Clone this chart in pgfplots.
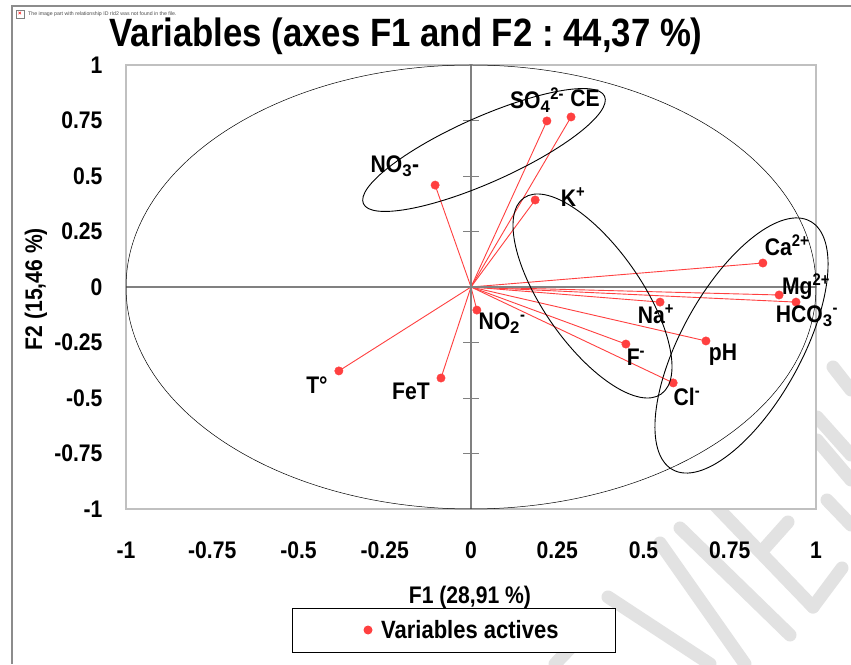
\documentclass[border=0pt]{standalone}
\usepackage{fontspec}
\setmainfont{Liberation Sans}
\usepackage{pgfplots}
\pgfplotsset{compat=1.18}
\definecolor{redv}{RGB}{255,64,64}
\definecolor{wm}{RGB}{226,226,226}
\definecolor{boxc}{RGB}{192,192,192}
\newfontfamily\nb[FakeStretch=0.88]{Liberation Sans}
\pgfplotstableread{
x y
0.22 0.748
0.29 0.766
-0.104 0.459
0.186 0.392
0.846 0.108
0.893 -0.036
0.942 -0.068
0.548 -0.068
0.681 -0.243
0.449 -0.257
0.586 -0.432
0.017 -0.104
-0.087 -0.41
-0.383 -0.378
}\pts
\begin{document}
\frenchspacing
\begin{tikzpicture}[x=1pt,y=1pt]
\fill[white] (0,0) rectangle (851,664);
\begin{scope}
\clip (0,0) rectangle (851,664);
\foreach \a/\b/\c/\d in {680/136/790/29, 710/164/813/57, 813/57/842/96, 788/142/763/114, 660/121/745/0, 608/67/710/0, 602/49/555/0, 827/164/851/139, 833/297/851/274, 817/247/851/209, 817/224/851/184}{
  \draw[wm,line width=13pt,line cap=round] (\a,\b) -- (\c,\d);}
\draw[gray!90,line width=2pt] (12,658) -- (12,0);
\draw[gray!90,line width=2pt] (11,658) -- (851,658);
\end{scope}
\draw[gray,line width=.4pt,fill=white] (16,646) rectangle (24,654);
\node[red,font=\fontsize{6}{6}\selectfont\bfseries,inner sep=0] at (20,650) {×};
\node[anchor=west,gray!60!black,font=\fontsize{5.2}{6}\selectfont,inner sep=0] at (28,650) {The image part with relationship ID rId2 was not found in the file.};
\begin{axis}[
  at={(126pt,155pt)},anchor=south west,scale only axis,
  width=690pt,height=444pt,
  xmin=-1,xmax=1,ymin=-1,ymax=1,
  axis background/.style={fill=white},
  axis line style={draw=boxc,line width=1.2pt},
  xtick={-1,-0.75,-0.5,-0.25,0,0.25,0.5,0.75,1},ytick={-1,-0.75,-0.5,-0.25,0,0.25,0.5,0.75,1},
  xticklabels={-1,-0.75,-0.5,-0.25,0,0.25,0.5,0.75,1},
  yticklabels={-1,-0.75,-0.5,-0.25,0,0.25,0.5,0.75,1},
  /pgf/number format/assume math mode=true,
  tick style={draw=none},
  ticklabel style={font=\fontsize{24}{24}\selectfont\nb\bfseries},
  xticklabel style={yshift=-29pt},
  yticklabel style={xshift=-20pt},
  clip=false,
]
\addplot[redv,line width=.9pt,forget plot] coordinates {(0,0) (0.22,0.748)};
\addplot[redv,line width=.9pt,forget plot] coordinates {(0,0) (0.29,0.766)};
\addplot[redv,line width=.9pt,forget plot] coordinates {(0,0) (-0.104,0.459)};
\addplot[redv,line width=.9pt,forget plot] coordinates {(0,0) (0.186,0.392)};
\addplot[redv,line width=.9pt,forget plot] coordinates {(0,0) (0.846,0.108)};
\addplot[redv,line width=.9pt,forget plot] coordinates {(0,0) (0.893,-0.036)};
\addplot[redv,line width=.9pt,forget plot] coordinates {(0,0) (0.942,-0.068)};
\addplot[redv,line width=.9pt,forget plot] coordinates {(0,0) (0.548,-0.068)};
\addplot[redv,line width=.9pt,forget plot] coordinates {(0,0) (0.681,-0.243)};
\addplot[redv,line width=.9pt,forget plot] coordinates {(0,0) (0.449,-0.257)};
\addplot[redv,line width=.9pt,forget plot] coordinates {(0,0) (0.586,-0.432)};
\addplot[redv,line width=.9pt,forget plot] coordinates {(0,0) (0.017,-0.104)};
\addplot[redv,line width=.9pt,forget plot] coordinates {(0,0) (-0.087,-0.41)};
\addplot[redv,line width=.9pt,forget plot] coordinates {(0,0) (-0.383,-0.378)};
\addplot[only marks,mark=*,mark size=4.2pt,mark options={fill=redv,draw=redv}] table {\pts};
\end{axis}
\draw[boxc,line width=1.6pt] (126,155) rectangle (816,599);
% centre axes and their ticks
\draw[gray,line width=1.5pt] (126,377) -- (816,377);
\draw[gray,line width=1.5pt] (471,155) -- (471,599);
\foreach \v in {-3,-2,-1,1,2,3}{
  \draw[gray,line width=.8pt] ({471-8},{377+55.5*\v}) -- ({471+8},{377+55.5*\v});
}
\draw[black,line width=.5pt] (471,377) ellipse [x radius=345pt,y radius=222pt];
% ellipses
\draw[black,line width=.9pt,rotate around={24:(484,514)}] (484,514) ellipse [x radius=132pt,y radius=32.7pt];
\draw[black,line width=.9pt,rotate around={-55:(592.5,368)}] (592.5,368) ellipse [x radius=119.7pt,y radius=48.9pt];
\draw[black,line width=.9pt,rotate around={61:(741.5,318.5)}] (741.5,318.5) ellipse [x radius=142pt,y radius=60pt];
% labels
\tikzset{lb/.style={font=\fontsize{24}{24}\selectfont\nb\bfseries,inner sep=0,anchor=center}}
\node[lb] at (537,564) {SO$_{\mathbf{4}}$\textsuperscript{2-}};
\node[lb] at (585,566) {CE};
\node[lb] at (395,498) {NO$_{\mathbf{3}}$-};
\node[lb] at (573,467) {K\textsuperscript{+}};
\node[lb] at (787,419) {Ca\textsuperscript{2+}};
\node[lb] at (806,377) {Mg\textsuperscript{2+}};
\node[lb] at (807,348) {HCO$_{\mathbf{3}}$\textsuperscript{-}};
\node[lb] at (656,350) {Na\textsuperscript{+}};
\node[lb] at (723,309) {pH};
\node[lb] at (636,307) {F\textsuperscript{-}};
\node[lb] at (687,267) {Cl\textsuperscript{-}};
\node[lb] at (502,341) {NO$_{\mathbf{2}}$\textsuperscript{-}};
\node[lb] at (411,273) {FeT};
\node[lb] at (317,279) {T°};
\node[font=\fontsize{39.5}{40}\selectfont\nb\bfseries,inner sep=0] at (406,628) {Variables (axes F1 and F2 : 44,37 \%)};
\node[font=\fontsize{24}{24}\selectfont\nb\bfseries,inner sep=0] at (470,67) {F1 (28,91 \%)};
\node[font=\fontsize{24}{24}\selectfont\nb\bfseries,inner sep=0,rotate=90] at (36,375) {F2 (15,46 \%)};
\draw[black,line width=.8pt,fill=white] (292,12) rectangle (615,56);
\fill[redv] (368,34) circle (4.5pt);
\node[font=\fontsize{25}{25}\selectfont\nb\bfseries,inner sep=0,anchor=west] at (381,34) {Variables actives};
\end{tikzpicture}
\end{document}
